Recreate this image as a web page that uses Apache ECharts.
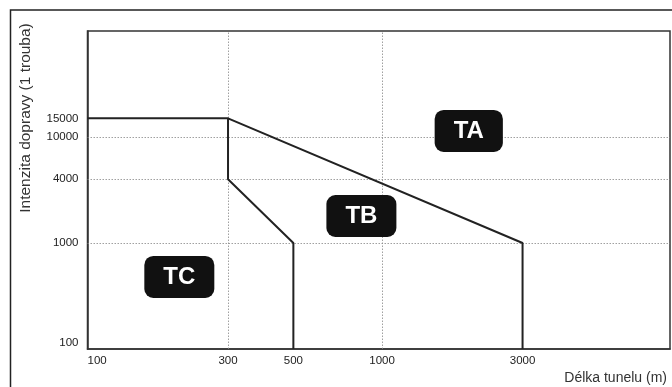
<!DOCTYPE html>
<html>
<head>
<meta charset="utf-8">
<script src="https://cdn.jsdelivr.net/npm/echarts@6/dist/echarts.min.js"></script>
<style>html,body{margin:0;padding:0;background:#fff}#c{width:672px;height:387px}</style>
</head>
<body>
<div id="c"></div>
<script>
// Axis tick labels
var xTicks = [100, 300, 500, 1000, 3000];
var yTicks = [100, 1000, 4000, 10000, 15000];
// Dotted reference (grid) lines
var xGrid = [300, 1000];
var yGrid = [1000, 4000, 10000];
// Boundary lines between categories
var boundaryA = [[100, 15000], [300, 15000], [3000, 1000], [3000, 100]];
var boundaryB = [[300, 15000], [300, 4000], [500, 1000], [500, 100]];
// Category labels and their positions (length, intensity)
var zoneNames = ['TA', 'TB', 'TC'];
var zoneX = [1970, 851, 205];
var zoneY = [11400, 1798, 478];

var FONT = '"Liberation Sans", Arial, sans-serif';
var chart = echarts.init(document.getElementById('c'), null, {renderer: 'canvas'});

var zoneData = zoneNames.map(function (n, i) { return {name: n, value: [zoneX[i], zoneY[i]]}; });
var gridLines = xGrid.map(function (v) { return {xAxis: v}; })
  .concat(yGrid.map(function (v) { return {yAxis: v}; }));
function plain(v) { return String(Math.round(v)); }

chart.setOption({
  animation: false,
  backgroundColor: '#fff',
  grid: {left: 87.5, top: 31, right: 2, bottom: 38, show: true, borderColor: '#333', borderWidth: 1.5, backgroundColor: 'transparent'},
  xAxis: {
    type: 'log', logBase: 10, min: 100, max: 9500,
    axisLine: {show: true, onZero: false, lineStyle: {color: '#333', width: 1.5}},
    axisTick: {show: false},
    splitLine: {show: false},
    minorTick: {show: false}, minorSplitLine: {show: false},
    axisLabel: {
      customValues: xTicks, formatter: plain, color: '#222', fontSize: 11.5, fontFamily: FONT, margin: 6,
      alignMinLabel: 'left'
    }
  },
  yAxis: {
    type: 'log', logBase: 10, min: 100, max: 100000,
    axisLine: {show: true, onZero: false, lineStyle: {color: '#333', width: 1.5}},
    axisTick: {show: false},
    splitLine: {show: false},
    minorTick: {show: false}, minorSplitLine: {show: false},
    axisLabel: {
      customValues: yTicks, formatter: plain, color: '#222', fontSize: 11.5, fontFamily: FONT, margin: 9,
      verticalAlignMinLabel: 'bottom'
    }
  },
  series: [
    {
      type: 'line', data: boundaryA, symbol: 'none', silent: true, z: 3,
      lineStyle: {color: '#222', width: 2},
      markLine: {
        silent: true, symbol: 'none', label: {show: false},
        lineStyle: {color: '#888', width: 0.8, type: [1.5, 1.5]},
        data: gridLines, z: 1
      }
    },
    {
      type: 'line', data: boundaryB, symbol: 'none', silent: true, z: 3,
      lineStyle: {color: '#222', width: 2}
    },
    {
      type: 'scatter', data: zoneData, symbolSize: 0, silent: true, z: 5,
      itemStyle: {opacity: 1, color: '#111'},
      emphasis: {disabled: true},
      label: {
        show: true, position: 'inside', formatter: '{b}', opacity: 1,
        color: '#fff', fontSize: 24, fontWeight: 'bold', fontFamily: FONT,
        backgroundColor: '#111', borderRadius: 9,
        padding: [9, 19, 9, 19], lineHeight: 24
      }
    }
  ],
  graphic: [
    {type: 'rect', silent: true, shape: {x: 10.5, y: 10, width: 700, height: 400},
     style: {fill: 'none', stroke: '#222', lineWidth: 1.5}},
    {type: 'text', silent: true, x: 26, y: 118, rotation: Math.PI / 2,
     style: {text: 'Intenzita dopravy (1 trouba)', fill: '#333', font: '15.5px ' + FONT,
             align: 'center', verticalAlign: 'middle'}},
    {type: 'text', silent: true, x: 667, y: 378,
     style: {text: 'Délka tunelu (m)', fill: '#333', font: '14px ' + FONT,
             align: 'right', verticalAlign: 'middle'}}
  ]
});
</script>
</body>
</html>
